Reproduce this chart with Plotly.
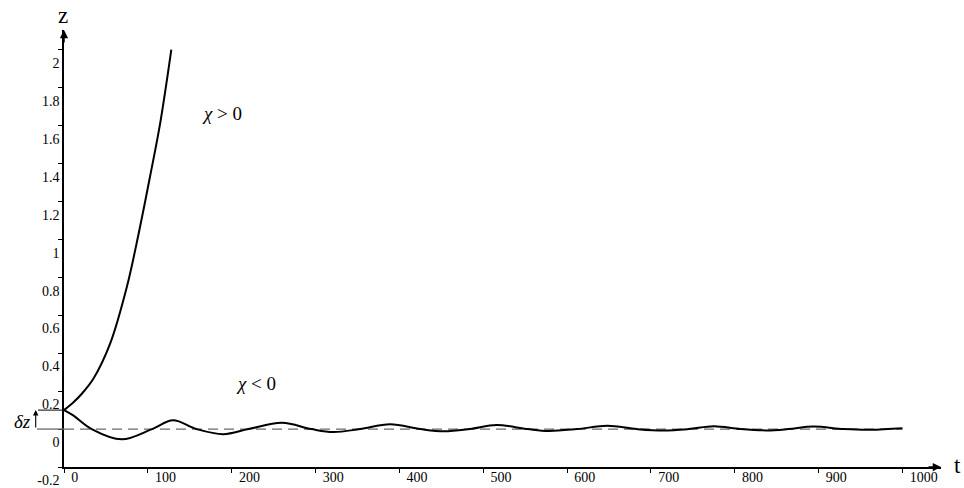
import plotly.graph_objects as go

# ---- data ----
t_pos = [0, 11, 21, 35, 55, 75, 89, 103, 115, 128]
z_pos = [0.10, 0.14, 0.185, 0.265, 0.45, 0.75, 1.03, 1.34, 1.62, 2.0]

t_neg = [0, 11, 33, 69, 105, 130, 158, 190, 220, 260, 295, 321, 353, 389, 425,
         453, 484, 516, 553, 578, 612, 648, 683, 715, 745, 775, 807, 838, 864,
         894, 930, 962, 1000]
z_neg = [0.10, 0.072, 0.0, -0.054, 0.0, 0.046, 0.0, -0.027, 0.0, 0.033, 0.0,
         -0.016, 0.0, 0.025, 0.0, -0.012, 0.0, 0.021, 0.0, -0.010, 0.0, 0.017,
         0.0, -0.008, 0.0, 0.015, 0.0, -0.007, 0.0, 0.013, 0.0, -0.004, 0.004]

eq_t = [0, 1000]
eq_z = [0.0, 0.0]
delta_z = 0.1

x_ticks = [0, 100, 200, 300, 400, 500, 600, 700, 800, 900, 1000]
x_labels = ["0", "100", "200", "300", "400", "500", "600", "700", "800", "900", "1000"]
y_ticks = [-0.2, 0, 0.2, 0.4, 0.6, 0.8, 1.0, 1.2, 1.4, 1.6, 1.8, 2.0]
y_labels = ["-0.2", "0", "0.2", "0.4", "0.6", "0.8", "1", "1.2", "1.4", "1.6", "1.8", "2"]

# ---- layout geometry ----
W, H = 964, 488
ML, MR, MT, MB = 64, 23, 30, 21
X_RANGE = [0, 1046]
Y_RANGE = [-0.2, 2.104]
PW, PH = W - ML - MR, H - MT - MB
FONT = "Liberation Serif, DejaVu Serif, Times New Roman, serif"


def px_x(px):
    # window pixel -> paper fraction
    return (px - ML) / PW


def px_y(py):
    return (H - MB - py) / PH


def yp(z):
    return (z - Y_RANGE[0]) / (Y_RANGE[1] - Y_RANGE[0])


fig = go.Figure()
fig.add_trace(go.Scatter(x=eq_t, y=eq_z, mode="lines",
                         line=dict(color="#6a6a6a", width=1.3, dash="10px,6px"),
                         hoverinfo="skip", showlegend=False))
fig.add_trace(go.Scatter(x=t_pos, y=z_pos, mode="lines",
                         line=dict(color="black", width=2, shape="spline", smoothing=1.0),
                         showlegend=False))
fig.add_trace(go.Scatter(x=t_neg, y=z_neg, mode="lines",
                         line=dict(color="black", width=2, shape="spline", smoothing=1.0),
                         showlegend=False))

shapes = [
    dict(type="line", xref="paper", yref="paper", x0=px_x(37), x1=0,
         y0=yp(eq_z[0]), y1=yp(eq_z[0]), line=dict(color="#6a6a6a", width=1.3)),
    dict(type="line", xref="paper", yref="paper", x0=px_x(38), x1=0,
         y0=yp(eq_z[0] + delta_z), y1=yp(eq_z[0] + delta_z), line=dict(color="black", width=1)),
]

annotations = [
    # axis arrowheads
    dict(xref="paper", yref="paper", x=0, y=1, ax=0, ay=14, text="", showarrow=True,
         arrowhead=2, arrowsize=1.1, arrowwidth=1.5, arrowcolor="black"),
    dict(xref="paper", yref="paper", x=1, y=0, ax=-14, ay=0, text="", showarrow=True,
         arrowhead=2, arrowsize=1.1, arrowwidth=1.5, arrowcolor="black"),
    # axis titles
    dict(xref="paper", yref="paper", x=px_x(63), y=px_y(15), text="z", showarrow=False,
         font=dict(family=FONT, size=23, color="black"), xanchor="center", yanchor="middle"),
    dict(xref="paper", yref="paper", x=px_x(957), y=px_y(465), text="t", showarrow=False,
         font=dict(family=FONT, size=23, color="black"), xanchor="center", yanchor="middle"),
    # curve labels
    dict(xref="x", yref="y", x=188, y=1.665, text="<i>χ</i> &gt; 0", showarrow=False,
         font=dict(family=FONT, size=19, color="black"), xanchor="center", yanchor="middle"),
    dict(xref="x", yref="y", x=229, y=0.241, text="<i>χ</i> &lt; 0", showarrow=False,
         font=dict(family=FONT, size=19, color="black"), xanchor="center", yanchor="middle"),
    # delta z marker
    dict(xref="paper", yref="paper", x=px_x(35.7), y=yp(eq_z[0] + delta_z),
         axref="pixel", ayref="pixel", ax=0, ay=delta_z * PH / (Y_RANGE[1] - Y_RANGE[0]),
         text="", showarrow=True, arrowhead=2, arrowsize=1, arrowwidth=1.1, arrowcolor="black"),
    dict(xref="paper", yref="paper", x=px_x(22), y=px_y(421), text="<i>δz</i>", showarrow=False,
         font=dict(family=FONT, size=19, color="black"), xanchor="center", yanchor="middle"),
]

fig.update_layout(
    width=W, height=H,
    margin=dict(l=ML, r=MR, t=MT, b=MB, pad=0, autoexpand=False),
    paper_bgcolor="white", plot_bgcolor="white",
    shapes=shapes, annotations=annotations,
    font=dict(family=FONT, color="black"),
    xaxis=dict(range=X_RANGE, tickmode="array", tickvals=x_ticks, ticktext=x_labels,
               showline=True, linecolor="black", linewidth=1.5, ticks="outside", ticklen=4,
               tickcolor="black", tickwidth=1, showgrid=False, zeroline=False,
               automargin=False, ticklabelposition="outside right", ticklabeloverflow="allow",
               tickfont=dict(family=FONT, size=14, color="black"),
               ticklabelshift=6, ticklabelstandoff=-4),
    yaxis=dict(range=Y_RANGE, tickmode="array", tickvals=y_ticks, ticktext=y_labels,
               showline=True, linecolor="black", linewidth=1.5, ticks="outside", ticklen=4,
               tickcolor="black", tickwidth=1, showgrid=False, zeroline=False,
               automargin=False, ticklabelposition="outside bottom", ticklabeloverflow="allow",
               tickfont=dict(family=FONT, size=14, color="black"), ticklabelshift=3),
)

fig.write_html("out.html", config={"displayModeBar": False},
               post_script="document.body.style.margin='0';document.body.style.overflow='hidden';")
